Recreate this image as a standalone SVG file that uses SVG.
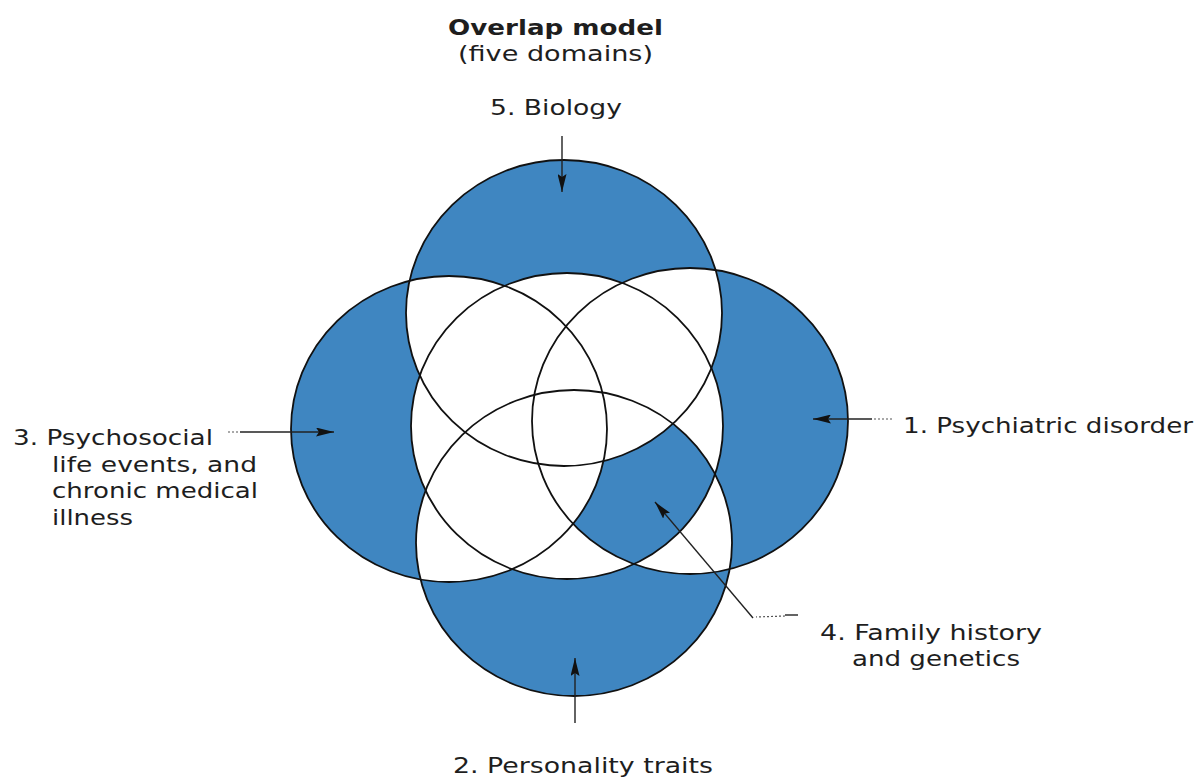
<svg xmlns="http://www.w3.org/2000/svg" width="1199" height="779" viewBox="0 0 1199 779">
  <style>
    .blue { fill: #3f86c1; }
    .white { fill: #ffffff; }
    .outline { fill: none; stroke: #111; stroke-width: 1.8; }
    .lbl { font-family: "DejaVu Sans", Verdana, sans-serif; font-size: 22px; fill: #1e1e1e; }
    .title { font-weight: bold; }
    .arrow { fill: none; stroke: #222; stroke-width: 1.4; }
    .dots { fill: none; stroke: #555; stroke-width: 1.2; stroke-dasharray: 2 2; }
  </style>
  <defs>
    <ellipse id="eT" cx="564" cy="313" rx="158" ry="153"/>
    <ellipse id="eL" cx="449" cy="429" rx="158" ry="153"/>
    <ellipse id="eR" cx="690" cy="421" rx="158" ry="153"/>
    <ellipse id="eB" cx="574" cy="543" rx="158" ry="153"/>
    <ellipse id="eC" cx="567" cy="426" rx="156" ry="153"/>
    <clipPath id="cT"><use href="#eT"/></clipPath>
    <clipPath id="cL"><use href="#eL"/></clipPath>
    <clipPath id="cR"><use href="#eR"/></clipPath>
    <clipPath id="cB"><use href="#eB"/></clipPath>
    <clipPath id="cC"><use href="#eC"/></clipPath>
    <marker id="ah" viewBox="0 0 18 9" refX="18" refY="4.5" markerWidth="18" markerHeight="9" markerUnits="userSpaceOnUse" orient="auto">
      <path d="M0,0 L18,4.5 L0,9 L3,4.5 z" fill="#111"/>
    </marker>
  </defs>
  <rect width="1199" height="779" fill="#ffffff"/>

  <g id="regions">
    <use href="#eT" class="blue"/>
    <use href="#eL" class="blue"/>
    <use href="#eR" class="blue"/>
    <use href="#eB" class="blue"/>
    <use href="#eC" class="white"/>
    <g clip-path="url(#cT)"><use href="#eL" class="white"/><use href="#eR" class="white"/></g>
    <g clip-path="url(#cB)"><use href="#eL" class="white"/><use href="#eR" class="white"/></g>
    <g clip-path="url(#cR)"><g clip-path="url(#cB)">
      <use href="#eC" class="blue"/>
      <g clip-path="url(#cC)"><use href="#eT" class="white"/><use href="#eL" class="white"/></g>
    </g></g>
  </g>

  <g id="title">
    <text class="lbl title" x="448" y="35" textLength="215" lengthAdjust="spacingAndGlyphs">Overlap model</text>
    <text class="lbl" x="458" y="61" textLength="195" lengthAdjust="spacingAndGlyphs">(five domains)</text>
  </g>

  <g id="node-biology">
    <use href="#eT" class="outline"/>
    <text class="lbl" x="490" y="115" textLength="132" lengthAdjust="spacingAndGlyphs">5. Biology</text>
  </g>
  <g id="node-psychosocial">
    <use href="#eL" class="outline"/>
    <text class="lbl" x="13" y="445" textLength="200" lengthAdjust="spacingAndGlyphs">3. Psychosocial</text>
    <text class="lbl" x="52" y="472" textLength="205" lengthAdjust="spacingAndGlyphs">life events, and</text>
    <text class="lbl" x="52" y="498" textLength="206" lengthAdjust="spacingAndGlyphs">chronic medical</text>
    <text class="lbl" x="52" y="525" textLength="81" lengthAdjust="spacingAndGlyphs">illness</text>
  </g>
  <g id="node-psychiatric">
    <use href="#eR" class="outline"/>
    <text class="lbl" x="903" y="433" textLength="290" lengthAdjust="spacingAndGlyphs">1. Psychiatric disorder</text>
  </g>
  <g id="node-personality">
    <use href="#eB" class="outline"/>
    <text class="lbl" x="453" y="773" textLength="260" lengthAdjust="spacingAndGlyphs">2. Personality traits</text>
  </g>
  <g id="node-family">
    <use href="#eC" class="outline"/>
    <text class="lbl" x="820" y="640" textLength="222" lengthAdjust="spacingAndGlyphs">4. Family history</text>
    <text class="lbl" x="852" y="666" textLength="168" lengthAdjust="spacingAndGlyphs">and genetics</text>
  </g>

  <g id="connectors">
    <path class="arrow" d="M562,136 L562,192" marker-end="url(#ah)"/>
    <path class="dots" d="M228,432 L240,432"/>
    <path class="arrow" d="M240,432 L334,432" marker-end="url(#ah)"/>
    <path class="dots" d="M892,419 L872,419"/>
    <path class="arrow" d="M872,419 L813,419" marker-end="url(#ah)"/>
    <path class="arrow" d="M575,723 L575,658" marker-end="url(#ah)"/>
    <path class="arrow" d="M798,615 L785,615"/>
    <path class="dots" d="M785,616 L756,617"/>
    <path class="arrow" d="M753,618 L655,502" marker-end="url(#ah)"/>
  </g>
</svg>
